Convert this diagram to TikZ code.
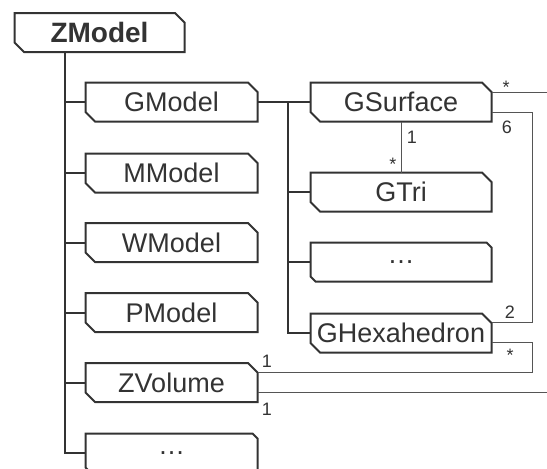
\documentclass[tikz,border=0pt]{standalone}
\usepackage{fontspec}
\setmainfont{Liberation Sans}
\usetikzlibrary{shapes.misc}
\definecolor{ink}{HTML}{333333}
\definecolor{assoc}{HTML}{555555}
\tikzset{
  cls/.style={chamfered rectangle, chamfered rectangle corners={north east,south west},
    chamfered rectangle xsep=6pt, chamfered rectangle angle=45,
    draw=ink, line width=2pt, text=ink, inner sep=0pt, outer sep=0pt,
    minimum height=39pt, font=\fontsize{27}{30}\selectfont},
  leftcls/.style={cls, minimum width=172pt},
  rightcls/.style={cls, minimum width=181pt},
  tree/.style={draw=ink, line width=2pt},
  link/.style={draw=assoc, line width=1pt},
  mult/.style={text=ink, inner sep=0pt, font=\fontsize{18}{20}\selectfont}
}
\begin{document}
\begin{tikzpicture}[x=1pt,y=-1pt]
\clip (0,0) rectangle (547,469);
\fill[white] (0,0) rectangle (547,469);

% root
\node[cls, minimum width=170pt, font=\fontsize{28}{30}\selectfont\bfseries] (ZModel) at (99.5,32.5) {ZModel};

% first level
\node[leftcls] (GModel)  at (171.5,102)   {GModel};
\node[leftcls] (MModel)  at (171.5,173)   {MModel};
\node[leftcls] (WModel)  at (171.5,242.5) {WModel};
\node[leftcls] (PModel)  at (171.5,312.5) {PModel};
\node[leftcls] (ZVolume) at (171.5,382.5) {ZVolume};
\node[leftcls] (More)    at (171.5,453)   {…};

% second level
\node[rightcls] (GSurface)    at (401,102) {GSurface};
\node[rightcls] (GTri)        at (401,192) {GTri};
\node[rightcls] (GMore)       at (401,262) {…};
\node[rightcls] (GHexahedron) at (401,333) {GHexahedron};

% containment tree from ZModel
\foreach \c in {GModel,MModel,WModel,PModel,ZVolume,More}
  \draw[tree] ([xshift=-34.5pt]ZModel.south) |- (\c.west);

% containment tree from GModel
\draw[tree] (GModel.east) -- (GSurface.west);
\foreach \c in {GTri,GMore,GHexahedron}
  \draw[tree] ([xshift=30pt]GModel.east) |- (\c.west);

% associations (yshift is in page direction: positive is up)
\coordinate (outA) at (547,92);
\coordinate (outB) at (547,392);
\draw[link] (GSurface.south) -- (GTri.north);
\draw[link] ([yshift=10pt]GSurface.east) -- (outA);
\draw[link] ([yshift=-10pt]GSurface.east) -- ++(41,0) |- ([yshift=11pt]GHexahedron.east);
\draw[link] ([yshift=-9pt]GHexahedron.east) -- ++(41,0) |- ([yshift=10.5pt]ZVolume.east);
\draw[link] ([yshift=-9.5pt]ZVolume.east) -- (outB);

% multiplicities
\node[mult] (m1) at (412,137) {1};
\node[mult] (m2) at (393,164) {*};
\node[mult] (m3) at (506,87)  {*};
\node[mult] (m4) at (507,127) {6};
\node[mult] (m5) at (510,312) {2};
\node[mult] (m6) at (510,355) {*};
\node[mult] (m7) at (267,361) {1};
\node[mult] (m8) at (267,409) {1};
\end{tikzpicture}
\end{document}
